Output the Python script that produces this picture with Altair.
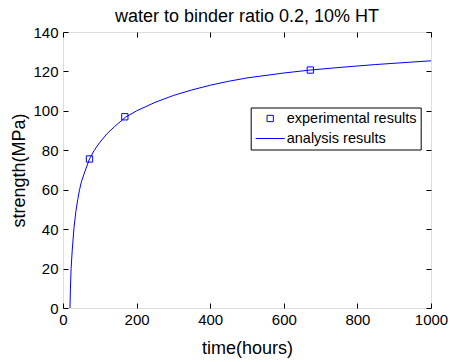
import altair as alt
import pandas as pd

# experimental points (hours, MPa)
exp_time = [72, 168, 672]
exp_strength = [75.6, 97.0, 120.7]

# analysis curve (hours, MPa)
fit_time = [19, 20, 22, 25, 30, 35, 40, 45, 50, 60, 72, 85, 100, 120, 140, 170,
            200, 250, 300, 350, 400, 450, 500, 600, 672, 750, 850, 1000]
fit_strength = [0, 9, 20, 29, 41, 49, 55, 60, 64, 69.5, 75.6, 80, 84, 88.5, 92, 96.8,
                100, 104.3, 107.8, 110.6, 113, 115, 116.7, 119.2, 120.7, 122, 123.5, 125.4]

x_ticks = [0, 200, 400, 600, 800, 1000]
y_ticks = [0, 20, 40, 60, 80, 100, 120, 140]

series_names = ["experimental results", "analysis results"]
BLUE = "#0000ff"
FONT = "Liberation Sans"
W, H = 368, 276

exp_df = pd.DataFrame({"t": exp_time, "s": exp_strength, "series": series_names[0]})
fit_df = pd.DataFrame({"t": fit_time, "s": fit_strength})

xs = alt.Scale(domain=[0, 1000], nice=False, zero=False)
ys = alt.Scale(domain=[0, 140], nice=False)

def ax_main(title, orient):
    return alt.Axis(orient=orient, values=x_ticks if orient == "bottom" else y_ticks,
                    title=title, tickSize=0, domain=False, grid=False, format="d",
                    labelFlush=False, labelOverlap=False,
                    labelFontSize=15, titleFontSize=18, titleFontWeight="normal",
                    labelColor="black", titleColor="black", labelFont=FONT, titleFont=FONT,
                    labelPadding=5 if orient == "left" else 4,
                    titlePadding=4 if orient == "left" else 12)

def ax_tick(orient, offset, vals):
    return alt.Axis(orient=orient, offset=offset, values=vals, labels=False, title=None,
                    tickSize=5, tickColor="black", tickWidth=1, domain=False, grid=False)

line = alt.Chart(fit_df).mark_line(color=BLUE, strokeWidth=1, clip=True).encode(
    x=alt.X("t:Q", scale=xs, axis=ax_main("time(hours)", "bottom")),
    y=alt.Y("s:Q", scale=ys, axis=ax_main("strength(MPa)", "left")),
)

square = "M-0.21,-0.21H0.21V0.21H-0.21Z"
stroke = "M-0.97,0H0.97"

points = alt.Chart(exp_df).mark_point(filled=False, color=BLUE, strokeWidth=1, size=900, opacity=1).encode(
    x=alt.X("t:Q", scale=xs, axis=ax_tick("top", -H, x_ticks)),
    y=alt.Y("s:Q", scale=ys, axis=ax_tick("right", -W, y_ticks)),
    shape=alt.Shape("series:N",
                    scale=alt.Scale(domain=series_names, range=[square, stroke]),
                    legend=alt.Legend(title=None, orient="none", legendX=187.7, legendY=75.5,
                                      symbolSize=900, clipHeight=14, symbolStrokeColor=BLUE,
                                      symbolFillColor="transparent", symbolStrokeWidth=1,
                                      labelFontSize=14.5, labelFont=FONT, labelColor="black",
                                      labelOffset=1, rowPadding=5, padding=4,
                                      strokeColor="black", fillColor="white",
                                      cornerRadius=0)),
)

ghost = alt.Chart(exp_df).mark_point(opacity=0).encode(
    x=alt.X("t:Q", scale=xs, axis=ax_tick("bottom", -H, x_ticks)),
    y=alt.Y("s:Q", scale=ys, axis=ax_tick("left", -W, y_ticks)),
)

chart = alt.layer(line, points, ghost).resolve_axis(
    x="independent", y="independent"
).properties(
    width=W, height=H,
    title=alt.TitleParams("water to binder ratio 0.2, 10% HT", fontSize=18, fontWeight="normal",
                          font=FONT, color="black", anchor="middle", offset=-1),
    autosize=alt.AutoSizeParams(type="none"),
    padding={"left": 63, "top": 32, "right": 19, "bottom": 54},
).configure_view(stroke="black", strokeWidth=1).configure(background="white")

chart.save("out.html", embed_options={"renderer": "svg", "actions": False})
